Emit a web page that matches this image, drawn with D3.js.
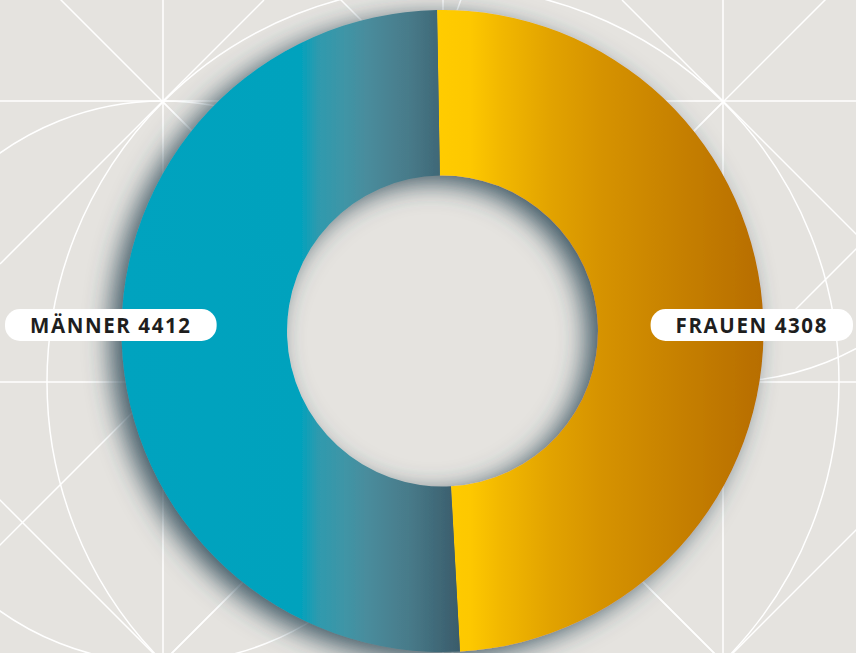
<!DOCTYPE html>
<html>
<head>
<meta charset="utf-8">
<script src="https://cdn.jsdelivr.net/npm/d3@7"></script>
<style>
  body { margin: 0; background: #e5e3df; }
  svg { display: block; }
</style>
</head>
<body>
<div id="chart"></div>
<script>
// data
var categories = ["FRAUEN", "MÄNNER"];
var values = [4308, 4412];

var width = 856,
  height = 653;

var cx = 442.5,
  cy = 331,
  outerR = 321,
  innerR = 155.5;

var svg = d3
  .select("#chart")
  .append("svg")
  .attr("width", width)
  .attr("height", height);

svg.append("rect").attr("width", width).attr("height", height).attr("fill", "#e5e3df");

var defs = svg.append("defs");

// gradients, one per slice (horizontal, page x positions)
var gradStops = [
  [
    [437, "#ffcc00"],
    [470, "#fdc800"],
    [500, "#f2b800"],
    [550, "#e2a300"],
    [600, "#d69300"],
    [680, "#c68000"],
    [764, "#b76d00"],
  ],
  [
    [121, "#00a3bf"],
    [300, "#00a2bd"],
    [318, "#2e9aae"],
    [345, "#3f95a6"],
    [370, "#4a8b9b"],
    [410, "#477a89"],
    [460, "#3a5b6a"],
  ],
];
gradStops.forEach(function (stops, i) {
  var x0 = stops[0][0],
    x1 = stops[stops.length - 1][0];
  // paths sit in a group translated by cx, so shift back
  var g = defs
    .append("linearGradient")
    .attr("id", "grad" + i)
    .attr("gradientUnits", "userSpaceOnUse")
    .attr("x1", x0 - cx)
    .attr("x2", x1 - cx)
    .attr("y1", 0)
    .attr("y2", 0);
  stops.forEach(function (s) {
    g.append("stop")
      .attr("offset", (s[0] - x0) / (x1 - x0))
      .attr("stop-color", s[1]);
  });
});

// drop shadow
var f = defs
  .append("filter")
  .attr("id", "shadow")
  .attr("x", "-30%")
  .attr("y", "-30%")
  .attr("width", "160%")
  .attr("height", "160%");
f.append("feGaussianBlur").attr("in", "SourceAlpha").attr("stdDeviation", 13).attr("result", "blur");
f.append("feOffset").attr("in", "blur").attr("dx", -11).attr("dy", 7).attr("result", "off");
f.append("feFlood").attr("flood-color", "#2f4b59").attr("flood-opacity", 0.9);
f.append("feComposite").attr("in2", "off").attr("operator", "in").attr("result", "sh");
var merge = f.append("feMerge");
merge.append("feMergeNode").attr("in", "sh");
merge.append("feMergeNode").attr("in", "SourceGraphic");

// background construction lines
var u = 280,
  ox = 443,
  oy = 382;
function P(a, b) {
  return [ox + a * u, oy + b * u];
}
// segment p->q, stretched past q by factor k
function ext(p, q, k) {
  return [p, [p[0] + (q[0] - p[0]) * k, p[1] + (q[1] - p[1]) * k]];
}
var guideLines = [
  [[-50, 101], [906, 101]],
  [[-50, 382], [906, 382]],
  [[163, -50], [163, 703]],
  [[443, -50], [443, 703]],
  [[723, -50], [723, 703]],
  ext(P(-1, -1), P(1, 1), 1.3),
  ext(P(1, 1), P(-1, -1), 1.3),
  ext(P(1, -1), P(-1, 1), 1.3),
  ext(P(-1, 1), P(1, -1), 1.3),
  [[0, 264], [264, 0]],
  [[622, 0], [900, 278]],
  [[-50, 450], [250, 750]],
  [[900, 486], [700, 686]],
  ext(P(1, 0), P(0, -1), 1.6),
  ext(P(0, -1), P(-1, 0), 1.8),
  ext(P(0, 1), P(1, 0), 1.8),
];
var gl = svg.append("g").attr("stroke", "#ffffff").attr("stroke-width", 1.5).attr("fill", "none");
guideLines.forEach(function (l) {
  gl.append("line")
    .attr("x1", l[0][0])
    .attr("y1", l[0][1])
    .attr("x2", l[1][0])
    .attr("y2", l[1][1]);
});
var guideCircles = [
  [443, 382, 396],
  [163, 382, 281],
  [723, 101, 281],
];
guideCircles.forEach(function (c) {
  gl.append("circle").attr("cx", c[0]).attr("cy", c[1]).attr("r", c[2]);
});

// cover lines under the ring and in the hole
svg.append("circle").attr("cx", cx).attr("cy", cy).attr("r", outerR).attr("fill", "#e5e3df");

// donut
var pie = d3
  .pie()
  .sort(null)
  .startAngle(-0.017)
  .endAngle(-0.017 + 2 * Math.PI);
var arc = d3.arc().innerRadius(innerR).outerRadius(outerR);

var g = svg
  .append("g")
  .attr("transform", "translate(" + cx + "," + cy + ")")
  .attr("filter", "url(#shadow)");

g.selectAll("path")
  .data(pie(values))
  .enter()
  .append("path")
  .attr("d", arc)
  .attr("fill", function (d, i) {
    return "url(#grad" + i + ")";
  });

// labels
var labelData = [
  { text: categories[0] + " " + values[0], side: "right" },
  { text: categories[1] + " " + values[1], side: "left" },
];
var pillH = 32,
  pad = 25,
  pillY = 309;
labelData.forEach(function (d) {
  var lg = svg.append("g");
  var rect = lg.append("rect").attr("fill", "#ffffff").attr("rx", 15).attr("height", pillH).attr("y", pillY);
  var t = lg
    .append("text")
    .attr("y", pillY + 23.5)
    .attr("text-anchor", "middle")
    .style("font-family", "'Open Sans', 'Noto Sans', sans-serif")
    .style("font-weight", 700)
    .style("font-size", "20.5px")
    .style("letter-spacing", "1.6px")
    .attr("fill", "#1e1e1e")
    .text(d.text);
  var w = t.node().getComputedTextLength() + pad * 2;
  var x0 = d.side === "left" ? 5 : 853 - w;
  rect.attr("x", x0).attr("width", w);
  t.attr("x", x0 + w / 2);
});
</script>
</body>
</html>
